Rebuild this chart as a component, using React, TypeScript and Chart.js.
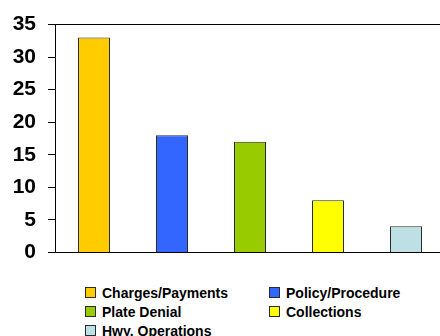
import React, { useEffect, useRef } from "react";
import { Chart, registerables } from "chart.js";

Chart.register(...registerables);

// Complaint categories and their counts
const categoryNames = [
  "Charges/Payments",
  "Policy/Procedure",
  "Plate Denial",
  "Collections",
  "Hwy. Operations",
];
const categoryCounts = [33, 18, 17, 8, 4];
const categoryColors = ["#FFCC00", "#3366FF", "#99CC00", "#FFFF00", "#BCE0E3"];

// Value axis
const yMin = 0;
const yMax = 35;
const yStep = 5;

const FONT = '"Liberation Sans", Arial, Helvetica, sans-serif';

// Legend laid out as two columns, filled row by row
const legendColumnsX = [85, 269];
const legendRowsY = [292.5, 311.5, 330.5];

const CANVAS_W = 445;
const CANVAS_H = 277;

export default function App() {
  const canvasRef = useRef<HTMLCanvasElement | null>(null);

  useEffect(() => {
    const canvas = canvasRef.current;
    if (!canvas) return;
    const chart = new Chart(canvas, {
      type: "bar",
      data: {
        labels: [""],
        datasets: categoryNames.map((name, i) => ({
          label: name,
          data: [categoryCounts[i]],
          backgroundColor: categoryColors[i],
          borderColor: "#2a2a2a",
          borderWidth: 1,
          barPercentage: 0.41,
          categoryPercentage: 1,
        })),
      },
      options: {
        responsive: false,
        animation: false,
        devicePixelRatio: 1,
        layout: { padding: { top: 22, bottom: 10, left: 0, right: 0 } },
        plugins: {
          legend: { display: false },
          tooltip: { enabled: false },
        },
        scales: {
          x: {
            display: true,
            afterFit: (scale: any) => {
              scale.height = 0;
            },
            ticks: { display: false },
            grid: { display: false, drawTicks: false },
            border: { display: true, color: "#000", width: 1 },
          },
          y: {
            min: yMin,
            max: yMax,
            afterFit: (scale: any) => {
              scale.width = 55;
            },
            ticks: {
              stepSize: yStep,
              color: "#000",
              padding: 12,
              font: { family: FONT, size: 21, weight: "bold" },
            },
            grid: {
              display: true,
              drawOnChartArea: true,
              drawTicks: true,
              tickLength: 7,
              tickColor: "#000",
              lineWidth: 1,
              color: (ctx: any) =>
                ctx.tick && ctx.tick.value === yMax ? "#000" : "rgba(0,0,0,0)",
            },
            border: { display: true, color: "#000", width: 1 },
          },
        },
      },
    });
    return () => chart.destroy();
  }, []);

  return (
    <div
      style={{
        position: "fixed",
        left: 0,
        top: 0,
        width: 440,
        height: 336,
        overflow: "hidden",
        background: "#fff",
      }}
    >
      <div style={{ position: "absolute", left: 0, top: 0, width: CANVAS_W, height: CANVAS_H }}>
        <canvas
          ref={canvasRef}
          width={CANVAS_W}
          height={CANVAS_H}
          style={{ width: CANVAS_W, height: CANVAS_H }}
        />
      </div>
      {categoryNames.map((name, i) => {
        const x = legendColumnsX[i % 2];
        const y = legendRowsY[Math.floor(i / 2)];
        return (
          <div
            key={name}
            style={{
              position: "absolute",
              left: x,
              top: y - 10,
              height: 20,
              display: "flex",
              alignItems: "center",
              whiteSpace: "nowrap",
              fontFamily: FONT,
              fontWeight: "bold",
              fontSize: 14,
              color: "#000",
            }}
          >
            <span
              style={{
                display: "inline-block",
                boxSizing: "border-box",
                width: 11,
                height: 11,
                background: categoryColors[i],
                border: "1px solid #2a2a2a",
                marginRight: 6,
              }}
            />
            {name}
          </div>
        );
      })}
    </div>
  );
}
